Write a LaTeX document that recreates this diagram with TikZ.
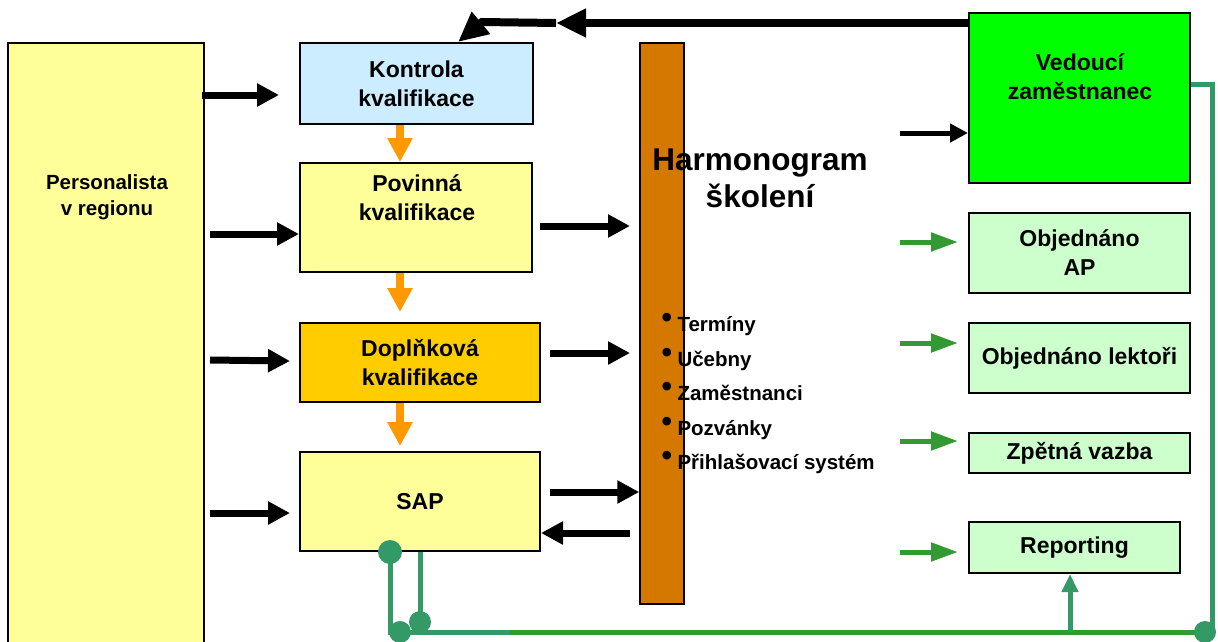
\documentclass[tikz,border=0pt]{standalone}
\usepackage{fontspec}
\setmainfont{Liberation Sans}
\usetikzlibrary{arrows.meta}
\definecolor{lyellow}{HTML}{FFFF99}
\definecolor{lblue}{HTML}{CCECFF}
\definecolor{goldbox}{HTML}{FFCC00}
\definecolor{harmcol}{HTML}{D47800}
\definecolor{lgreen}{HTML}{CCFFCC}
\definecolor{vgreen}{HTML}{00FF00}
\definecolor{tealline}{HTML}{339966}
\definecolor{grnline}{HTML}{339933}
\definecolor{orarrow}{HTML}{FF9900}
\newcommand\bul{\makebox[12pt][l]{\hspace*{-4pt}\raisebox{4pt}{\fontsize{30}{30}\selectfont •}}}
\begin{document}
\begin{tikzpicture}[x=1pt,y=-1pt,
  box/.style={draw=black,line width=2pt,inner sep=0pt,font=\bfseries\fontsize{23}{29}\selectfont,align=center},
  btext/.style={font=\bfseries\fontsize{23}{29}\selectfont,align=center},
  blk/.style={draw=black,line width=7pt,-{Triangle[length=22pt,width=22pt]}},
  blks/.style={draw=black,line width=5pt,-{Triangle[length=18pt,width=18pt]}},
  blkt/.style={draw=black,line width=8pt,-{Triangle[length=30pt,width=27pt]}},
  grn/.style={draw=grnline,line width=5pt,-{Triangle[length=27pt,width=18pt]}},
  ora/.style={draw=orarrow,line width=8pt,-{Triangle[length=24pt,width=24pt]}},
  tl/.style={draw=tealline,line width=5pt},
  dot/.style={circle,fill=tealline,inner sep=0pt,minimum size=22pt}]
\useasboundingbox (0,0) rectangle (1218,641);
% boxes
\node[box,fill=lyellow,minimum width=196pt,minimum height=620pt] (pers) at (106,353) {};
\node[font=\bfseries\fontsize{20.5}{26}\selectfont,align=center] (persT) at (107,197) {Personalista\\v regionu};
\node[box,fill=lblue,minimum width=233pt,minimum height=81pt] (kon) at (416.5,83.5) {Kontrola\\kvalifikace};
\node[box,fill=lyellow,minimum width=232pt,minimum height=109pt] (pov) at (416,217.5) {};
\node[btext] (povT) at (417,198) {Povinná\\kvalifikace};
\node[box,fill=goldbox,minimum width=240pt,minimum height=79pt] (dop) at (420,362.5) {Doplňková\\kvalifikace};
\node[box,fill=lyellow,minimum width=240pt,minimum height=99pt] (sap) at (420,501.5) {SAP};
\node[draw=black,line width=1.5pt,fill=harmcol,minimum width=44pt,minimum height=561pt,inner sep=0pt] (harm) at (662,323.5) {};
\node[font=\bfseries\fontsize{31.5}{37}\selectfont,align=center] (harmT) at (760,178) {Harmonogram\\školení};
\node[font=\bfseries\fontsize{20.5}{34.5}\selectfont,align=left,anchor=north west] (list) at (662,310)
  {\bul Termíny\\\bul Učebny\\\bul Zaměstnanci\\\bul Pozvánky\\\bul Přihlašovací systém};
\node[box,fill=vgreen,minimum width=221pt,minimum height=170pt] (ved) at (1079.5,98) {};
\node[btext] (vedT) at (1080,77) {Vedoucí\\zaměstnanec};
\node[box,fill=lgreen,minimum width=221pt,minimum height=80pt] (oap) at (1079.5,253) {Objednáno\\AP};
\node[box,fill=lgreen,minimum width=221pt,minimum height=70pt] (olek) at (1079.5,358) {Objednáno lektoři};
\node[box,fill=lgreen,minimum width=221pt,minimum height=40pt] (zpet) at (1079.5,453) {Zpětná vazba};
\node[box,fill=lgreen,minimum width=211pt,minimum height=51pt] (rep) at (1074.5,547.5) {Reporting};
% coordinates
\coordinate (a1s) at (202,95); \coordinate (a1e) at (279,95);
\coordinate (a2s) at (210,234);
\coordinate (a3s) at (210,360); \coordinate (a3e) at (290,361);
\coordinate (a4s) at (210,513); \coordinate (a4e) at (290,513);
\coordinate (h1s) at (540,226); \coordinate (h1e) at (630,226);
\coordinate (h2s) at (550,353); \coordinate (h2e) at (630,353);
\coordinate (h3s) at (550,492);
\coordinate (h4s) at (630,533);
\coordinate (v1s) at (900,133);
\coordinate (g1s) at (900,242); \coordinate (g2s) at (900,343);
\coordinate (g3s) at (900,441); \coordinate (g4s) at (900,552);
% black arrows
\draw[blk] (a1s) -- (a1e);
\draw[blk] (a2s) -- (a2s -| pov.west);
\draw[blk] (a3s) -- (a3e);
\draw[blk] (a4s) -- (a4e);
\draw[blk] (h1s) -- (h1e);
\draw[blk] (h2s) -- (h2e);
\draw[blk] (h3s) -- (h3s -| harm.west);
\draw[blk] (h4s) -- (h4s -| sap.east);
\draw[blks] (v1s) -- (v1s -| ved.west);
% top feedback arrow
\coordinate (t1) at (968,23); \coordinate (t2) at (556,23); \coordinate (t3) at (482,22);
\draw[blkt] (t1) -- (t2);
\draw[blkt] (t2) -- (t3) -- (458,0 |- kon.north);
% orange arrows
\draw[ora] (400,0 |- kon.south) -- (400,0 |- pov.north);
\draw[ora] (400,0 |- pov.south) -- (400,312);
\draw[ora] (400,0 |- dop.south) -- (400,446);
% green arrows
\draw[grn] (g1s) -- (958,242);
\draw[grn] (g2s) -- (958,343);
\draw[grn] (g3s) -- (958,441);
\draw[grn] (g4s) -- (958,552);
% green lines
\coordinate (br) at (1205,632);
\coordinate (bl) at (400,632);
\coordinate (bm) at (510,632);
\draw[draw=grnline,line width=5pt] (bm) -- (br);
\draw[tl] (bl) -- (bm);
\draw[tl] (ved.east |- 0,84) -- (1212,84) -- (1212,632);
\node[dot] (dbr) at (br) {};
\draw[tl] (390,552) -- (390,632) -- (bl);
\draw[tl] (420,0 |- sap.south) -- (420,622);
\node[dot,minimum size=24pt] (dsap) at (390,552) {};
\node[dot] (d2) at (420,622) {};
\node[dot] (d1) at (400,632) {};
\draw[tl,-{Triangle[length=18pt,width=16pt]}] (1070,632) -- (1070,0 |- rep.south);
\end{tikzpicture}
\end{document}
